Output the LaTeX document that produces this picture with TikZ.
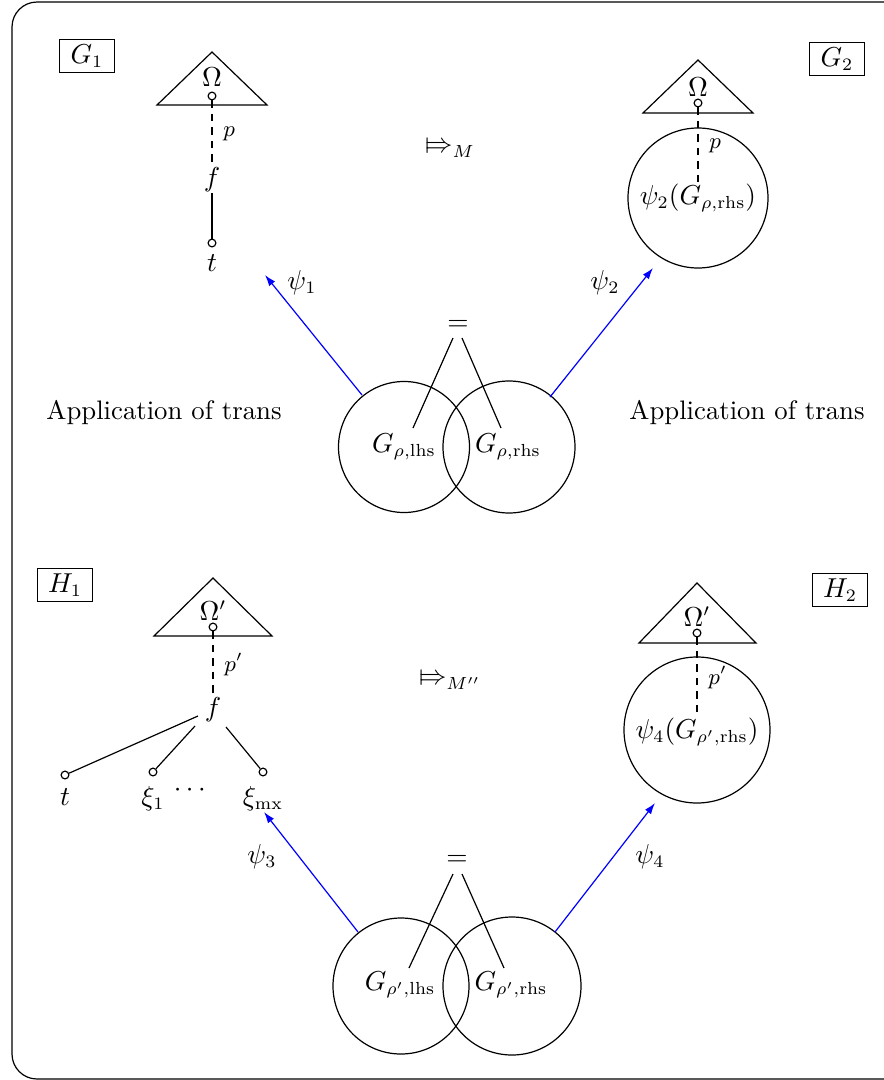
\documentclass[tikz,border=0pt]{standalone}
\usepackage{amsmath,stmaryrd}
\usetikzlibrary{arrows.meta}
\begin{document}
\begin{tikzpicture}[x=0.4pt,y=-0.4pt,line width=0.48pt,
  every node/.style={font=\fontsize{10.7}{13}\selectfont},
  small/.style={font=\fontsize{8.6}{10}\selectfont},
  dot/.style={circle,draw,inner sep=0pt,minimum size=3.1pt},
  lab/.style={inner sep=0pt},
  bigc/.style={circle,draw,inner sep=0pt},
  arr/.style={blue,-{Latex[length=4.5pt,width=3pt]}},
  tagbox/.style={draw,inner sep=0pt,minimum width=22pt,minimum height=13pt},
  dsh/.style={dash pattern=on 3pt off 2.4pt},
  tri/.style={draw}]
\clip (0,0) rectangle (884,1080);
\draw[rounded corners=10pt] (12,2) rectangle (910,1079);

% ---------- upper half ----------
\node[tagbox] (g1) at (87,56) {$G_1$};
\node[tagbox] (g2) at (837,59) {$G_2$};

% left tree
\draw[tri] (212,52) -- (267,105) -- (157,105) -- cycle;
\node[lab] (om1) at (212,77) {$\Omega$};
\node[dot] (d1) at (212,96) {};
\node[lab] (f1) at (212,180) {$f$};
\node[dot] (t1d) at (212,243) {};
\node[lab] (t1) at (212,263) {$t$};
\draw[dsh] (d1) -- node[right,small,xshift=1pt] {$p$} (f1);
\draw (f1) -- (t1d);

% right tree
\draw[tri] (698,60) -- (753,113) -- (643,113) -- cycle;
\node[lab] (om2) at (698,87) {$\Omega$};
\node[dot] (d2) at (698,103) {};
\node[bigc,minimum size=56pt] (c2) at (698,198) {};
\node[lab] (psi2g) at (698,198) {$\psi_2(G_{\rho,\mathrm{rhs}})$};
\draw[dsh] (d2) -- node[right,small,xshift=1pt] {$p$} (psi2g.north);

\node[lab] (mapM) at (450,150) {$\Mapsto_M$};

% venn
\node[bigc,minimum size=52.4pt] (vl) at (404,447) {};
\node[bigc,minimum size=52.8pt] (vr) at (509,447) {};
\node[lab] (glhs) at (404,447) {$G_{\rho,\mathrm{lhs}}$};
\node[lab] (grhs) at (508,447) {$G_{\rho,\mathrm{rhs}}$};
\node[lab] (eq1) at (458,325) {$=$};
\coordinate (e1a) at (453,338);
\coordinate (e1b) at (462,338);
\coordinate (l1) at (413,428);
\coordinate (r1) at (501,428);
\draw (e1a) -- (l1);
\draw (e1b) -- (r1);

\coordinate (a1s) at (362,395);
\coordinate (a1e) at (265,275);
\coordinate (a2s) at (550,397);
\coordinate (a2e) at (653,268);
\draw[arr] (a1s) -- (a1e);
\draw[arr] (a2s) -- (a2e);
\node[lab] (psi1) at (302,283) {$\psi_1$};
\node[lab] (psi2) at (605,283) {$\psi_2$};

\node[lab] (app1) at (164,413) {Application of trans};
\node[lab] (app2) at (747,413) {Application of trans};

% ---------- lower half ----------
\node[tagbox] (h1) at (65,585) {$H_1$};
\node[tagbox] (h2) at (840,590) {$H_2$};

\draw[tri] (213,578) -- (272,636) -- (154,636) -- cycle;
\node[lab] (om3) at (213,611) {$\Omega'$};
\node[dot] (d3) at (213,627) {};
\node[lab] (f3) at (213,710) {$f$};
\draw[dsh] (d3) -- node[right,small,xshift=1pt] {$p'$} (f3);
\node[dot] (td) at (65,775) {};
\node[dot] (x1d) at (153,772) {};
\node[dot] (xmd) at (263,772) {};
\node[lab] (t3) at (65,797) {$t$};
\node[lab] (x1) at (153,799) {$\xi_1$};
\node[lab] (xm) at (263,799) {$\xi_{\mathrm{mx}}$};
\node[lab] (dots) at (192,790) {$\cdots$};
\coordinate (fa) at (198,716);
\coordinate (fb) at (195,726);
\coordinate (fc) at (226,727);
\draw (fa) -- (td);
\draw (fb) -- (x1d);
\draw (fc) -- (xmd);

\draw[tri] (697,583) -- (756,643) -- (639,643) -- cycle;
\node[lab] (om4) at (697,617) {$\Omega'$};
\node[dot] (d4) at (697,633) {};
\node[bigc,minimum size=58.4pt] (c4) at (697,730) {};
\node[lab] (psi4g) at (697,732) {$\psi_4(G_{\rho',\mathrm{rhs}})$};
\draw[dsh] (d4) -- node[right,small,xshift=1pt] {$p'$} (psi4g.north);

\node[lab] (mapM2) at (450,682) {$\Mapsto_{M''}$};

\node[bigc,minimum size=54.4pt] (vl2) at (401,986) {};
\node[bigc,minimum size=55.2pt] (vr2) at (512,986) {};
\node[lab] (glhs2) at (400,985) {$G_{\rho',\mathrm{lhs}}$};
\node[lab] (grhs2) at (511,985) {$G_{\rho',\mathrm{rhs}}$};
\node[lab] (eq2) at (457,860) {$=$};
\coordinate (e2a) at (453,874);
\coordinate (e2b) at (462,874);
\coordinate (l2) at (409,968);
\coordinate (r2) at (504,968);
\draw (e2a) -- (l2);
\draw (e2b) -- (r2);

\coordinate (a3s) at (358,932);
\coordinate (a3e) at (264,812);
\coordinate (a4s) at (555,932);
\coordinate (a4e) at (655,803);
\draw[arr] (a3s) -- (a3e);
\draw[arr] (a4s) -- (a4e);
\node[lab] (psi3) at (262,857) {$\psi_3$};
\node[lab] (psi4) at (650,857) {$\psi_4$};
\end{tikzpicture}
\end{document}
